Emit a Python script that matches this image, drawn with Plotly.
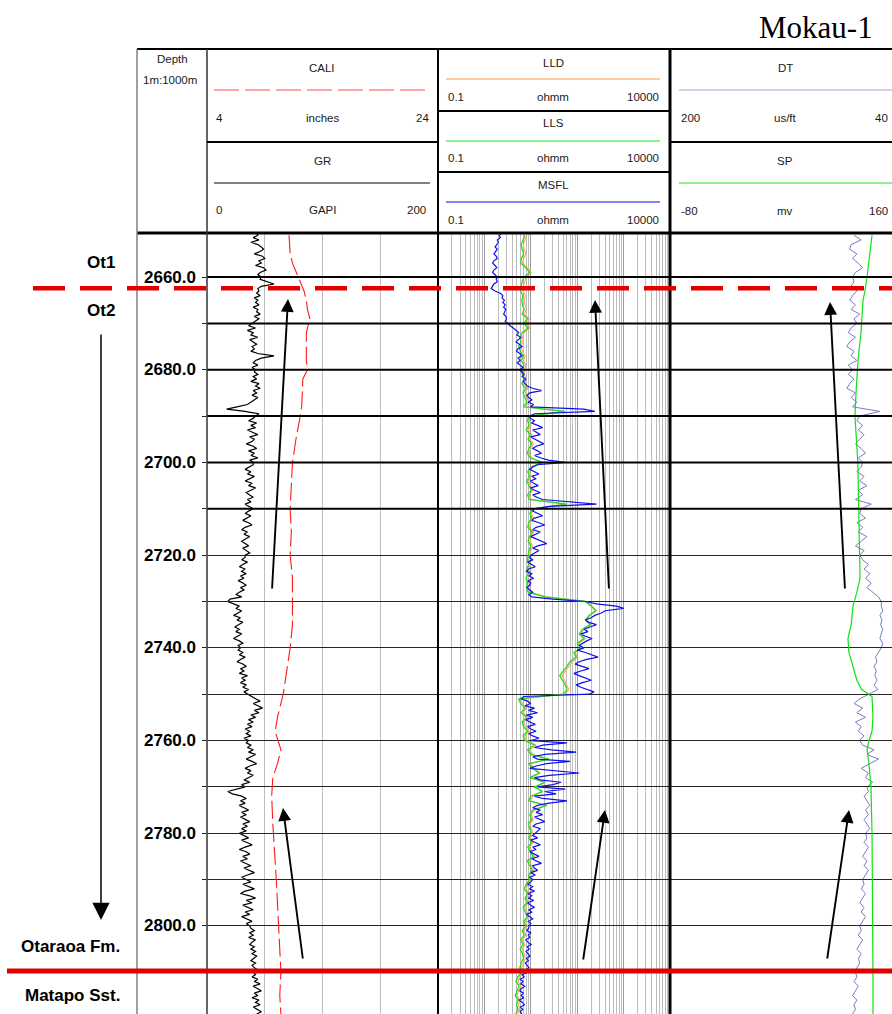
import numpy as np
import plotly.graph_objects as go

W, H = 892, 1014

# ---------------------------------------------------------------- log data --
TOP_DEPTH = 2650.5          # first sample of the 0.5 m curves (m)
BASE_DEPTH = 2819.0         # bottom of the displayed interval (m)
FINE_STEP = 0.5             # GR / MSFL sampling
COARSE_TOP = 2651.0         # first sample of the 1 m curves
COARSE_STEP = 1.0           # LLD / LLS / DT sampling

# Gamma ray, GAPI (0.5 m)
GR = [
    43, 44, 40, 45, 38, 44, 47, 49, 46, 41, 48, 50, 45, 47, 42, 49, 51, 46, 44, 47,
    46, 52, 58, 47, 44, 45, 43, 46, 41, 44, 42, 45, 40, 44, 43, 46, 41, 45, 42, 38,
    36, 42, 35, 40, 38, 44, 37, 40, 43, 39, 41, 38, 44, 58, 47, 42, 40, 44, 39, 42,
    41, 44, 40, 43, 38, 45, 42, 46, 40, 43, 39, 44, 41, 37, 35, 26, 17, 33, 45, 42,
    40, 36, 43, 38, 42, 35, 40, 44, 37, 41, 39, 34, 40, 43, 36, 41, 38, 44, 37, 40,
    40, 36, 33, 38, 35, 41, 37, 33, 39, 36, 42, 38, 34, 37, 40, 35, 38, 33, 37, 40,
    36, 33, 38, 34, 31, 36, 39, 33, 30, 35, 32, 37, 34, 30, 33, 36, 31, 34, 37, 33,
    33, 30, 35, 31, 28, 33, 30, 34, 29, 32, 27, 31, 34, 29, 32, 28, 25, 30, 20, 18,
    24, 28, 25, 30, 27, 23, 29, 26, 31, 27, 24, 28, 25, 30, 26, 23, 28, 31, 27, 29,
    27, 31, 28, 33, 29, 26, 31, 34, 29, 32, 28, 35, 30, 33, 29, 34, 31, 36, 32, 35,
    38, 42, 46, 40, 44, 48, 41, 45, 38, 42, 36, 40, 35, 39, 33, 37, 34, 38, 32, 36,
    34, 38, 35, 40, 36, 42, 38, 34, 39, 43, 37, 33, 38, 35, 40, 36, 32, 37, 30, 33,
    25, 18, 22, 30, 34, 29, 33, 28, 32, 36, 30, 34, 29, 33, 37, 31, 35, 30, 34, 28,
    32, 36, 30, 35, 39, 33, 28, 34, 37, 31, 35, 29, 33, 38, 32, 36, 41, 35, 30, 34,
    38, 31, 36, 41, 33, 29, 37, 42, 34, 39, 31, 36, 40, 33, 37, 30, 35, 39, 34, 37,
    38, 41, 37, 40, 36, 42, 39, 37, 41, 38, 42, 39, 43, 40, 38, 42, 39, 41, 44, 40,
    42, 39, 44, 41, 46, 40, 43, 47, 41, 44, 39, 45, 42, 46, 40, 44, 47, 43,
]

# Micro-resistivity MSFL, ohmm (0.5 m)
MSFL = [
    2.3, 2.1, 2.2, 1.9, 2.0, 1.8, 1.7, 1.9, 1.75, 1.6, 1.8, 1.9, 1.6, 1.5, 1.7, 1.85, 1.6, 1.5, 1.7, 1.9,
    1.8, 1.9, 1.6, 1.5, 1.4, 1.7, 2.2, 2.5, 2.4, 2.7, 2.5, 2.8, 2.6, 2.9, 2.7, 2.6, 2.9, 3.0, 2.8, 3.1,
    3.6, 4.2, 4.8, 5.5, 5.0, 6.2, 5.4, 4.8, 5.6, 6.5, 5.2, 4.9, 5.8, 6.4, 5.3, 5.9, 5.1, 6.0, 6.8, 5.7,
    6.3, 7.2, 6.5, 7.8, 6.9, 7.5, 8.3, 11, 17, 9.5, 8.2, 9.0, 10.5, 8.7, 11.5, 9.8, 140, 240, 12, 9.5,
    9.8, 12, 10.5, 14, 18, 11, 13, 16, 10, 12.5, 15, 19, 13, 11, 14, 17, 12, 16, 24, 55,
    14, 11, 9.5, 12, 15, 10.5, 13, 9.8, 11.5, 14.5, 10, 12, 16, 11, 13.5, 18, 60, 260, 25, 12,
    11, 14, 18, 12, 10.5, 15, 20, 13, 11, 16, 12.5, 10, 13, 17, 22, 14, 11, 15, 12, 10,
    9.5, 11, 8.5, 10, 12.5, 9, 8, 10.5, 9.2, 11.5, 8.8, 10, 9.5, 8.2, 9.8, 11, 9, 10.5, 30, 150,
    260, 700, 1000, 400, 330, 240, 200, 150, 180, 260, 190, 140, 170, 120, 150, 210, 160, 130, 110, 140,
    100, 150, 210, 280, 160, 110, 90, 130, 180, 120, 85, 110, 150, 200, 130, 95, 120, 170, 230, 180,
    7, 6.2, 8.5, 10, 7.5, 12, 9, 14, 8, 11, 7.8, 9.5, 12.5, 8.5, 10, 13, 9, 11, 15, 10,
    60, 18, 12, 28, 95, 20, 11, 14, 70, 22, 13, 9.5, 40, 110, 25, 12, 16, 45, 30, 14,
    55, 20, 35, 12, 18, 60, 25, 14, 11, 16, 13, 18, 12, 15, 20, 13, 11, 16, 14, 12,
    11, 14, 10, 12.5, 16, 11, 13, 9.5, 12, 15, 10.5, 13, 17, 11, 12, 14, 10, 12.5, 9.5, 11,
    10, 8.5, 11, 9.5, 12, 8.8, 10.5, 9, 11.5, 8.5, 9.8, 12, 9, 10.5, 8.2, 9.5, 11, 8.8, 10, 9.2,
    9, 8.2, 10, 8.8, 9.5, 7.8, 8.6, 10.2, 8.4, 9.2, 7.9, 8.7, 9.6, 8.1, 8.9, 7.6, 8.3, 9.1, 7.8, 8.5,
    6.5, 7.2, 5.9, 6.8, 6.1, 7.4, 6.3, 5.8, 6.9, 6.2, 7.0, 5.7, 6.6, 7.3, 6.0, 6.7, 5.9, 6.4,
]

# Shallow laterolog LLS, ohmm (1 m)
LLS = [
    7.5, 6.8, 6.2, 6.5, 7.0, 6.3, 6.0, 7.8, 9.5, 7.2,
    6.5, 6.2, 6.0, 6.8, 6.4, 6.6, 7.2, 6.5, 8.5, 7.0,
    8.8, 6.5, 5.8, 6.2, 5.5, 5.9, 6.8, 6.3, 7.1, 6.6,
    6.5, 7.2, 6.4, 7.8, 6.8, 7.5, 8.2, 7.0, 55, 9.0,
    8.5, 9.2, 8.0, 9.8, 8.7, 10.5, 9.1, 8.4, 9.6, 18,
    10, 8.6, 9.4, 8.2, 9.0, 10.2, 8.5, 9.3, 60, 11,
    9.5, 10.5, 9.0, 8.6, 10.8, 9.4, 8.8, 10.0, 9.2, 8.7,
    8.4, 9.0, 8.2, 8.8, 7.9, 8.5, 8.1, 8.7, 20, 150,
    200, 250, 180, 150, 190, 130, 110, 140, 100, 120,
    85, 95, 70, 60, 50, 42, 48, 55, 60, 50,
    5.5, 6.0, 7.5, 6.2, 8.0, 6.5, 7.0, 8.5, 6.8, 7.5,
    12, 8.5, 10, 25, 9, 11, 15, 9.5, 20, 12,
    18, 10, 9.0, 22, 11, 9.5, 10.5, 8.8, 9.6, 10.2,
    9.0, 10.5, 8.6, 9.8, 11.2, 8.4, 9.5, 10.8, 8.9, 9.3,
    8.0, 7.2, 8.6, 7.5, 8.2, 6.8, 7.6, 8.4, 7.0, 7.8,
    6.5, 7.2, 6.0, 6.8, 5.9, 6.6, 7.0, 6.2, 5.8, 6.4,
    5.2, 4.8, 5.6, 5.0, 4.6, 5.4, 4.9, 5.3, 4.7,
]

# Deep laterolog LLD, ohmm (1 m)
LLD = [
    8.2, 7.4, 6.9, 7.2, 7.8, 7.0, 6.6, 8.5, 10.2, 8.0,
    7.3, 6.9, 6.8, 7.6, 7.1, 7.4, 8.0, 7.2, 9.3, 7.9,
    9.6, 7.2, 6.5, 6.9, 6.1, 6.6, 7.5, 7.0, 7.8, 7.3,
    7.2, 8.0, 7.1, 8.6, 7.5, 8.3, 9.0, 7.8, 50, 9.8,
    9.2, 10.0, 8.8, 10.6, 9.5, 11.4, 9.9, 9.2, 10.4, 17,
    10.8, 9.4, 10.2, 9.0, 9.8, 11.0, 9.3, 10.1, 55, 12,
    10.3, 11.3, 9.8, 9.4, 11.6, 10.2, 9.6, 10.8, 10.0, 9.5,
    9.2, 9.8, 9.0, 9.6, 8.7, 9.3, 8.9, 9.5, 22, 160,
    210, 260, 190, 160, 200, 140, 120, 150, 110, 130,
    90, 100, 78, 66, 56, 47, 53, 60, 66, 55,
    6.0, 6.6, 8.2, 6.8, 8.8, 7.1, 7.7, 9.3, 7.4, 8.2,
    13, 9.2, 11, 24, 9.8, 12, 16, 10.3, 21, 13,
    17, 11, 9.8, 21, 12, 10.3, 11.4, 9.6, 10.4, 11,
    9.8, 11.4, 9.4, 10.6, 12.1, 9.2, 10.3, 11.7, 9.7, 10.1,
    8.7, 7.9, 9.3, 8.2, 8.9, 7.4, 8.3, 9.1, 7.6, 8.5,
    7.1, 7.8, 6.6, 7.4, 6.5, 7.2, 7.6, 6.8, 6.3, 7.0,
    5.7, 5.3, 6.1, 5.5, 5.0, 5.9, 5.4, 5.8, 5.2,
]

# Sonic DT, us/ft (1 m)
DT = [
    72, 67, 74, 75, 70, 73, 69, 66, 71, 73,
    72, 74, 70, 73, 75, 71, 74, 68, 72, 70,
    74, 76, 71, 75, 77, 72, 74, 70, 76, 73,
    76, 72, 75, 77, 71, 74, 70, 73, 54, 68,
    70, 66, 69, 65, 68, 71, 67, 64, 69, 66,
    67, 70, 65, 68, 63, 69, 66, 71, 60, 67,
    68, 64, 70, 66, 69, 63, 67, 71, 65, 68,
    66, 62, 65, 61, 64, 60, 63, 59, 55, 53,
    53, 52, 54, 52.5, 53.5, 52, 53, 54, 52, 53,
    55, 57, 56, 58, 56.5, 57.5, 56, 58, 55.5, 62,
    68, 72, 66, 70, 64, 71, 67, 69, 65, 68,
    66, 58, 63, 55, 61, 67, 62, 64, 59, 63,
    62, 65, 63, 61, 64, 62, 65, 63, 61, 64,
    63, 65, 62, 64, 66, 63, 65, 62, 64, 66,
    65, 67, 64, 66, 68, 65, 67, 64, 66, 68,
    67, 69, 66, 68, 70, 67, 69, 68, 70, 71,
    70, 72, 69, 71, 73, 70, 72, 71, 73,
]

# Caliper, inches
CALI_DEPTH = [2651, 2655, 2657, 2659.5, 2661, 2663, 2665, 2667, 2669, 2672, 2678, 2680,
              2682, 2688, 2691, 2695, 2700, 2705, 2710, 2715, 2720, 2725, 2730, 2735,
              2740, 2745, 2750, 2755, 2758, 2762, 2765, 2768, 2772, 2778, 2785, 2790,
              2795, 2800, 2805, 2810, 2815, 2819]
CALI = [11.1, 11.2, 11.4, 11.8, 12.1, 12.4, 12.6, 12.7, 12.9, 12.6, 12.6, 12.7,
        12.3, 12.2, 12.0, 11.7, 11.4, 11.3, 11.2, 11.3, 11.2, 11.4, 11.4, 11.4,
        11.2, 10.9, 10.6, 10.1, 9.9, 10.4, 10.1, 9.7, 9.6, 9.7, 9.9, 10.0,
        10.1, 10.2, 10.3, 10.4, 10.3, 10.4]

# Spontaneous potential, mV
SP_DEPTH = [2651, 2655, 2660, 2663, 2665, 2672, 2678, 2685, 2690, 2700, 2710, 2720,
            2725, 2728, 2731, 2735, 2738, 2741, 2744, 2747, 2749, 2750.5, 2755, 2758,
            2760, 2762, 2765, 2770, 2780, 2790, 2800, 2810, 2819]
SP = [130.8, 128.7, 125.6, 123.5, 121.4, 119.3, 116.2, 114.1, 113.0, 116.0, 117.2, 118.3,
      118.3, 115.0, 111.0, 109.0, 105.7, 106.7, 111.0, 115.0, 120.0, 130.8, 131.8, 130.8,
      127.6, 125.6, 127.6, 129.7, 130.8, 131.3, 131.3, 131.8, 131.8]

# Track scales
GR_SCALE = (0, 200)
CALI_SCALE = (4, 24)
RES_SCALE = (0.1, 10000)
DT_SCALE = (200, 40)
SP_SCALE = (-80, 160)

DEPTH_LABELS = [2660, 2680, 2700, 2720, 2740, 2760, 2780, 2800]
BOLD_LINES = [2660, 2670, 2680, 2690, 2700, 2710]

# Formation tops
OT2_TOP = 2662.4
MATAPO_TOP = 2809.7
ZONE_LABELS = [("Ot1", 117, 2656.8), ("Ot2", 117, 2667.3),
               ("Otaraoa Fm.", 122, 2804.5), ("Matapo Sst.", 122, 2814.9)]

fine_depth = TOP_DEPTH + FINE_STEP * np.arange(len(GR))
msfl_depth = TOP_DEPTH + FINE_STEP * np.arange(len(MSFL))
coarse_depth = COARSE_TOP + COARSE_STEP * np.arange(len(LLS))
dt_depth = COARSE_TOP + COARSE_STEP * np.arange(len(DT))

# ---------------------------------------------------------------- layout ----
def px(x):
    return x / W


def py(y):
    return 1 - y / H


T1 = (207, 438)
T2 = (438, 670)
T3 = (670, 900)             # track 3 runs past the right page edge
T3_DIV = 48.5               # grid spacing in track 3
DATA_TOP = 233
vis3 = (W - T3[0]) / (T3[1] - T3[0])

D1 = [px(T1[0]), px(T1[1])]
D2 = [px(T2[0]), px(T2[1])]
D3 = [px(T3[0]), 1.0]

fig = go.Figure()


def curve(x, y, axis, color, width, dash=None):
    fig.add_trace(go.Scatter(x=list(x), y=list(y), xaxis=axis, yaxis="y", mode="lines",
                             line=dict(color=color, width=width, dash=dash),
                             hoverinfo="skip"))


curve(GR, fine_depth, "x", "black", 1.2)
curve(CALI, CALI_DEPTH, "x2", "#ff1a1a", 1.1, "18px,5px")
curve(LLD, coarse_depth, "x3", "#ffa560", 1.1)
curve(LLS, coarse_depth, "x3", "#22dd22", 1.3)
curve(MSFL, msfl_depth, "x3", "#1010ee", 1.2)
curve(DT, dt_depth, "x5", "#7a7ac8", 1.0)
curve(SP, SP_DEPTH, "x6", "#11e011", 1.2)

grid_gray = "#bdbdbd"
minor_res = [k * 10.0 ** e for e in range(-1, 4) for k in range(2, 10)]


def hidden_axis(domain, rng):
    return dict(domain=domain, range=rng, anchor="y", visible=False,
                showgrid=False, zeroline=False, fixedrange=True)


layout = dict(
    width=W, height=H,
    margin=dict(l=0, r=0, t=0, b=0),
    paper_bgcolor="white", plot_bgcolor="rgba(0,0,0,0)",
    showlegend=False,
    yaxis=dict(domain=[0, py(DATA_TOP)], range=[BASE_DEPTH, TOP_DEPTH], anchor="x",
               showgrid=True, gridcolor="#262626", gridwidth=1.3, dtick=10, tick0=2650,
               ticks="outside", ticklen=4, tickcolor="#222", showticklabels=False,
               zeroline=False, showline=False),
    xaxis=dict(domain=D1, range=list(GR_SCALE), anchor="y",
               showgrid=True, gridcolor=grid_gray, gridwidth=1.3, dtick=50,
               showticklabels=False, ticks="", zeroline=False),
    xaxis2=hidden_axis(D1, list(CALI_SCALE)),
    xaxis3=dict(domain=D2, type="log",
                range=[np.log10(RES_SCALE[0]), np.log10(RES_SCALE[1])], anchor="y",
                showgrid=True, gridcolor="#9c9c9c", gridwidth=1.4, dtick=1,
                showticklabels=False, ticks="", zeroline=False,
                minor=dict(showgrid=True, gridcolor="#bcbcbc", gridwidth=1.1,
                           tickvals=minor_res, ticks="")),
    xaxis4=dict(domain=D3, range=[0, (W - T3[0]) / T3_DIV], anchor="y",
                showgrid=True, gridcolor=grid_gray, gridwidth=1.3, dtick=1, tick0=0,
                showticklabels=False, ticks="", zeroline=False),
    xaxis5=hidden_axis(D3, [DT_SCALE[0], DT_SCALE[0] + (DT_SCALE[1] - DT_SCALE[0]) * vis3]),
    xaxis6=hidden_axis(D3, [SP_SCALE[0], SP_SCALE[0] + (SP_SCALE[1] - SP_SCALE[0]) * vis3]),
)

shapes = []


def seg(x0, y0, x1, y1, color="black", width=2, dash=None, layer="above"):
    shapes.append(dict(type="line", xref="paper", yref="paper",
                       x0=px(x0), y0=py(y0), x1=px(x1), y1=py(y1), layer=layer,
                       line=dict(color=color, width=width, dash=dash)))


# heavier depth lines in the upper interval
for d in BOLD_LINES:
    shapes.append(dict(type="line", xref="paper", yref="y", x0=px(T1[0]), x1=1,
                       y0=d, y1=d, layer="above", line=dict(color="black", width=2)))

# header frame
seg(137, 49, W, 49, width=2)
seg(137, DATA_TOP, W, DATA_TOP, width=3)
seg(137, 49, 137, H, color="#808080", width=1.5)
seg(T1[0], 49, T1[0], H, color="#333", width=1.5)
seg(T2[0], 49, T2[0], H, width=2)
seg(T3[0], 49, T3[0], H, width=3)
seg(T1[0], 142, T1[1], 142, width=2)
seg(T2[0], 111, T2[1], 111, width=2)
seg(T2[0], 172, T2[1], 172, width=2)
seg(T3[0], 142, W, 142, width=2)

# header curve samples
seg(214, 90, 430, 90, color="#ff4a4a", width=1.2, dash="25px,6px")
seg(214, 183, 430, 183, color="black", width=1.2)
seg(446, 79, 660, 79, color="#ffbb80", width=1.5)
seg(446, 141, 660, 141, color="#66ee66", width=1.5)
seg(446, 202, 660, 202, color="#5858f0", width=1.5)
seg(679, 90, W, 90, color="#a0a0dd", width=1.2)
seg(679, 183, W, 183, color="#22dd22", width=1.2)

# formation tops
shapes.append(dict(type="line", xref="paper", yref="y", x0=px(33), x1=1, y0=OT2_TOP, y1=OT2_TOP,
                   line=dict(color="#e00000", width=4.5, dash="32px,15px")))
shapes.append(dict(type="line", xref="paper", yref="y", x0=px(7), x1=1, y0=MATAPO_TOP,
                   y1=MATAPO_TOP, line=dict(color="#e00000", width=5)))

annotations = []
SANS = "Liberation Sans, Arial, sans-serif"
HEAD = 11.5


def txt(x, y, s, anchor="center", size=HEAD, color="#1a1a1a", weight="normal",
        family=SANS, yref="paper"):
    annotations.append(dict(x=px(x), y=(py(y) if yref == "paper" else y), xref="paper",
                            yref=yref, text=s, showarrow=False, xanchor=anchor,
                            yanchor="middle",
                            font=dict(family=family, size=size, color=color, weight=weight)))


txt(816, 27, "Mokau-1", size=31, color="black", family="Liberation Serif, Times New Roman, serif")

# header texts
txt(172, 59, "Depth")
txt(170, 80, "1m:1000m")
txt(322, 68, "CALI")
txt(214, 118, "4", anchor="left")
txt(322, 118, "inches")
txt(431, 118, "24", anchor="right")
txt(322, 161, "GR")
txt(214, 210, "0", anchor="left")
txt(322, 210, "GAPI")
txt(428, 210, "200", anchor="right")
for name, ytitle, yscale in [("LLD", 63, 97), ("LLS", 123, 158), ("MSFL", 185, 220)]:
    txt(553, ytitle, name)
    txt(446, yscale, "0.1", anchor="left")
    txt(553, yscale, "ohmm")
    txt(661, yscale, "10000", anchor="right")
txt(785, 68, "DT")
txt(679, 118, "200", anchor="left")
txt(785, 118, "us/ft")
txt(890, 118, "40", anchor="right")
txt(785, 161, "SP")
txt(679, 211, "-80", anchor="left")
txt(785, 211, "mv")
txt(890, 211, "160", anchor="right")

# depth labels
for d in DEPTH_LABELS:
    txt(198, d, f"{d:.1f}", anchor="right", size=17, color="black", weight="bold", yref="y")

# zone labels
for s, xr, d in ZONE_LABELS:
    txt(xr, d, s, anchor="right", size=17, color="black", weight="bold", yref="y")


def arrow(xh, yh, xt, yt, width=1.8, size=1.0):
    annotations.append(dict(x=px(xh), y=py(yh), xref="paper", yref="paper",
                            ax=xt - xh, ay=yt - yh, axref="pixel", ayref="pixel",
                            text="", showarrow=True, arrowhead=2, arrowsize=size,
                            arrowwidth=width, arrowcolor="black", standoff=0))


# downward sequence arrow
arrow(101, 920, 101, 333, width=1.5, size=2.3)
# trend arrows in each track
for xh, yh, xt, yt in [(288, 299, 272, 590), (283, 808, 303, 960),
                       (595, 300, 609, 590), (605, 810, 583, 961),
                       (830, 302, 845, 590), (849, 810, 827, 960)]:
    arrow(xh, yh, xt, yt, width=1.9, size=1.35)

layout["shapes"] = shapes
layout["annotations"] = annotations
fig.update_layout(**layout)

fig.write_html("out.html")
